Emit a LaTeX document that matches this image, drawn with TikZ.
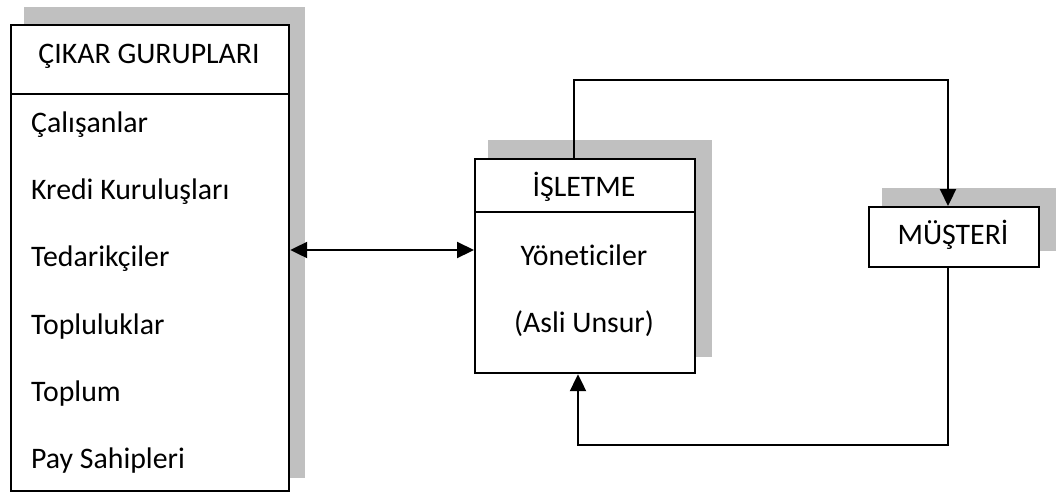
\documentclass[tikz,border=0pt]{standalone}
\usepackage{fontspec}
\setmainfont{Carlito}[Ligatures=NoCommon]
\usetikzlibrary{arrows.meta}
\definecolor{shadowgray}{HTML}{C0C0C0}
\begin{document}
\begin{tikzpicture}[x=1pt,y=-1pt,
  shadowrect/.style={fill=shadowgray,draw=none},
  mainbox/.style={draw,line width=2.2pt,fill=white,inner sep=0pt,anchor=north west},
  lbl/.style={font=\fontsize{29.8}{36}\selectfont,inner sep=0pt},
  conn/.style={line width=2.2pt},
  tipend/.style={-{Triangle[length=17pt,width=16pt]}},
  tipboth/.style={{Triangle[length=17pt,width=16pt]}-{Triangle[length=17pt,width=16pt]}}
]
\useasboundingbox (0,0) rectangle (1056,493);
% shadows
\fill[shadowrect] (24,7) rectangle (305,478);
\fill[shadowrect] (488,140) rectangle (712,357);
\fill[shadowrect] (882,188) rectangle (1056,251);
% boxes
\node[mainbox,minimum width=278pt,minimum height=466pt] (cikar) at (10,24) {};
\node[mainbox,minimum width=220pt,minimum height=214pt] (isl) at (474,158) {};
\node[mainbox,minimum width=170pt,minimum height=60pt] (mus) at (868,206) {};
% header dividers
\coordinate (hc) at (0,94);
\coordinate (hi) at (0,212);
\draw[conn] (cikar.west |- hc) -- (cikar.east |- hc);
\draw[conn] (isl.west |- hi) -- (isl.east |- hi);
% texts
\node[lbl,anchor=base] (th) at (149,63) {ÇIKAR GURUPLARI};
\node[lbl,anchor=base west] (t1) at (31,132) {Çalışanlar};
\node[lbl,anchor=base west] (t2) at (31,199) {Kredi Kuruluşları};
\node[lbl,anchor=base west] (t3) at (31,266) {Tedarikçiler};
\node[lbl,anchor=base west] (t4) at (31,334) {Topluluklar};
\node[lbl,anchor=base west] (t5) at (31,401) {Toplum};
\node[lbl,anchor=base west] (t6) at (31,468) {Pay Sahipleri};
\node[lbl,anchor=base] (ih) at (584,196) {İŞLETME};
\node[lbl,anchor=base] (i1) at (584,265) {Yöneticiler};
\node[lbl,anchor=base] (i2) at (584,332) {(Asli Unsur)};
\node[lbl,anchor=base] (mh) at (953,244) {MÜŞTERİ};
% connectors
\coordinate (ma) at (0,250);
\draw[conn,tipboth] (cikar.east |- ma) -- (isl.west |- ma);
\coordinate (ta) at (574,80);
\coordinate (tb) at (948,80);
\draw[conn,tipend] (isl.north -| ta) -- (ta) -- (tb) -- (tb |- mus.north);
\coordinate (ba) at (948,445);
\coordinate (bb) at (578,445);
\draw[conn,tipend] (mus.south -| ba) -- (ba) -- (bb) -- (bb |- isl.south);
\end{tikzpicture}
\end{document}
